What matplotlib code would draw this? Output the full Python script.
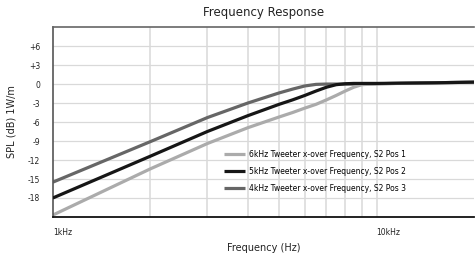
import matplotlib
matplotlib.use("Agg")
import matplotlib.pyplot as plt

# Frequency points (Hz) and SPL (dB) for each crossover position
freqs = [1000, 2000, 3000, 4000, 5000, 5500, 6000, 6500, 7000, 7500, 8000, 8500, 9000, 10000, 15000, 20000]
pos1_6k = [-20.7, -13.4, -9.4, -6.9, -5.2, -4.5, -3.8, -3.2, -2.5, -1.8, -1.1, -0.5, -0.1, 0.05, 0.2, 0.3]
pos2_5k = [-18.0, -11.4, -7.5, -5.0, -3.2, -2.5, -1.8, -1.1, -0.5, -0.1, 0.05, 0.1, 0.1, 0.1, 0.2, 0.3]
pos3_4k = [-15.5, -9.1, -5.3, -3.0, -1.4, -0.8, -0.3, -0.05, 0.0, 0.0, 0.0, 0.0, 0.0, 0.05, 0.2, 0.3]

yticks = [6, 3, 0, -3, -6, -9, -12, -15, -18]
ytick_labels = ["+6", "+3", "0", "-3", "-6", "-9", "-12", "-15", "-18"]
xgrid = [2000, 3000, 4000, 5000, 6000, 7000, 8000, 9000, 10000]

narrow = ["Liberation Sans Narrow", "DejaVu Sans"]

fig = plt.figure(figsize=(4.76, 2.58), dpi=100)
ax = fig.add_axes([0.111, 0.159, 0.885, 0.736])

ax.set_xscale("log")
ax.set_xlim(1000, 20000)
ax.set_ylim(-21, 9)

for y in yticks:
    ax.axhline(y, color="#d9d9d9", lw=0.9, zorder=0)
for x in xgrid:
    ax.axvline(x, color="#d9d9d9", lw=1.1, zorder=0)

ax.plot(freqs, pos3_4k, color="#666666", lw=2.3, solid_capstyle="butt", zorder=2,
        label="4kHz Tweeter x-over Frequency, S2 Pos 3")
ax.plot(freqs, pos1_6k, color="#ababab", lw=2.3, solid_capstyle="butt", zorder=2,
        label="6kHz Tweeter x-over Frequency, S2 Pos 1")
ax.plot(freqs, pos2_5k, color="#161616", lw=2.3, solid_capstyle="butt", zorder=3,
        label="5kHz Tweeter x-over Frequency, S2 Pos 2")

ax.set_yticks(yticks)
ax.set_yticklabels(ytick_labels, fontsize=5.5, family=narrow, color="#222222")
ax.set_xticks([1000, 10000])
ax.set_xticks([], minor=True)
ax.set_xticklabels(["1kHz", "10kHz"], fontsize=5.5, family=narrow, color="#222222")
for lab in ax.get_xticklabels():
    lab.set_ha("left")
ax.tick_params(axis="both", length=0)
ax.tick_params(axis="y", pad=9)
ax.tick_params(axis="x", pad=8)

ax.spines["right"].set_visible(False)
ax.spines["top"].set_color("#666666")
ax.spines["top"].set_linewidth(1.2)
ax.spines["left"].set_color("#555555")
ax.spines["left"].set_linewidth(1.2)
ax.spines["bottom"].set_color("#111111")
ax.spines["bottom"].set_linewidth(1.3)

ax.set_title("Frequency Response", fontsize=8.5, pad=8, color="#222222")
ax.set_xlabel("Frequency (Hz)", fontsize=7, labelpad=4, color="#222222")
ax.set_ylabel("SPL (dB) 1W/m", fontsize=7, labelpad=8, color="#222222")

h, l = ax.get_legend_handles_labels()
order = [1, 2, 0]
leg = ax.legend([h[i] for i in order], [l[i] for i in order], loc="upper left",
                bbox_to_anchor=(0.39, 0.39), frameon=False, handlelength=2.7,
                handletextpad=0.6, labelspacing=1.05,
                prop={"family": narrow, "size": 5.5})

fig.savefig("out.png", dpi=100)
